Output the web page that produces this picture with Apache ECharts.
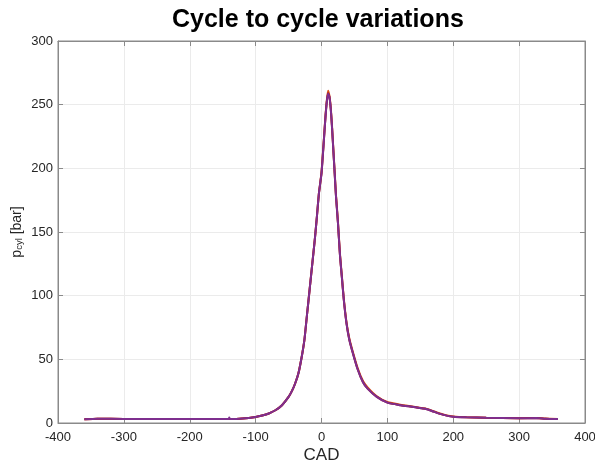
<!DOCTYPE html>
<html>
<head>
<meta charset="utf-8">
<script src="https://cdn.jsdelivr.net/npm/echarts@6/dist/echarts.min.js"></script>
<style>html,body{margin:0;padding:0;background:#fff;}#c{width:595px;height:462px;}</style>
</head>
<body>
<div id="c"></div>
<script>
// crank angle (deg) sample positions
const cad = [-360,-340,-300,-250,-200,-150,-141,-140,-139,-120,-100,-90,-80,-70,-60,-50,-45,-40,-35,-30,-26,-22,-18,-14,-10,-7,-4,-2,0,2,4,6,8,10,12,14,16,18,20,22,25,28,31,34,38,42,47,55,63,70,84,100,120,140,160,170,180,190,200,220,250,300,326,340,359];
// cylinder pressure, cycle A (orange)
const pA = [2.9,3.3,3.2,3.2,3.2,3.1,3.2,3.4,3.2,3.6,4.8,5.9,7.5,10,14,20.5,25,31,39,52,65,85,105,125,145,162,180,188,197,211,226,241,253,261,257,248,233,215,197,179,158,133,115,97,79,67,57,43,33,28,21,16.5,14.3,12.8,11.1,9.3,7.5,6.0,5.2,4.6,4.2,3.8,4.0,3.5,3.2];
// cylinder pressure, cycle B (dark red)
const pB = [2.9,3.3,3.2,3.2,3.2,3.1,3.2,3.3,3.2,3.6,4.8,5.9,7.5,10,14,20.5,25,31,39,52,65,85,105,125,145,162,180,188,196,210,225,240,252,259,256.5,247,232,214,196,178,157,132,114,96,78,66,56,42,32,27,20.5,16,14,12.5,10.8,9,7.2,5.8,5,4.5,4.1,3.7,3.9,3.4,3.1];
// cylinder pressure, cycle C (purple, on top)
const pC = [2.9,3.3,3.2,3.2,3.2,3.1,3.2,4.3,3.2,3.6,4.8,5.9,7.5,10,14,20.5,25,31,39,52,65,85,105,125,145,162,180,188,196,210,225,240,252,258.5,256,247,232,214,196,178,157,132,114,96,78,66,56,42,32,27,20.5,16,14,12.5,10.8,9,7.2,5.8,5,4.5,4.1,3.7,3.9,3.4,3.1];

const seriesColors = ['#D95319', '#A2142F', '#7E2F8E'];
const seriesData = [pA, pB, pC];

const chart = echarts.init(document.getElementById('c'), null, {renderer: 'canvas'});
const axisGray = '#8a8a8a';
const txt = '#262626';
const font = 'Liberation Sans, Arial, Helvetica, sans-serif';

chart.setOption({
  animation: false,
  backgroundColor: '#ffffff',
  title: {
    text: 'Cycle to cycle variations',
    left: 172, top: 8, padding: 0,
    textStyle: {fontSize: 25, fontWeight: 'bold', color: '#000', fontFamily: font}
  },
  grid: {left: 58, right: 10, top: 41, bottom: 39, containLabel: false, outerBoundsMode: 'none',
         show: true, borderColor: axisGray, borderWidth: 1, backgroundColor: '#fff'},
  xAxis: [{
    type: 'value', min: -400, max: 400, interval: 100, position: 'bottom',
    axisLine: {show: true, onZero: false, lineStyle: {color: axisGray}},
    axisTick: {show: true, inside: true, length: 5, lineStyle: {color: axisGray}},
    axisLabel: {color: txt, fontSize: 13, margin: 8, fontFamily: font},
    splitLine: {show: true, lineStyle: {color: '#ebebeb'}},
    name: 'CAD', nameLocation: 'middle', nameGap: 24, nameMoveOverlap: false,
    nameTextStyle: {fontSize: 17, color: txt, fontFamily: font}
  }, {
    type: 'value', min: -400, max: 400, interval: 100, position: 'top',
    axisLine: {show: true, onZero: false, lineStyle: {color: axisGray}},
    axisTick: {show: true, inside: true, length: 5, lineStyle: {color: axisGray}},
    axisLabel: {show: false}, splitLine: {show: false}
  }],
  yAxis: [{
    type: 'value', min: 0, max: 300, interval: 50, position: 'left',
    axisLine: {show: true, onZero: false, lineStyle: {color: axisGray}},
    axisTick: {show: true, inside: true, length: 5, lineStyle: {color: axisGray}},
    axisLabel: {color: txt, fontSize: 13, margin: 5, fontFamily: font},
    splitLine: {show: true, lineStyle: {color: '#ebebeb'}},
    name: '{m|p}{s|cyl}{m| [bar]}', nameLocation: 'middle', nameGap: 34, nameMoveOverlap: false,
    nameTextStyle: {
      color: txt, fontFamily: font,
      rich: {
        m: {fontSize: 14, lineHeight: 14, verticalAlign: 'top', color: txt, fontFamily: font},
        s: {fontSize: 9.5, lineHeight: 10, verticalAlign: 'bottom', padding: [8, 0, 0, 0], color: txt, fontFamily: font}
      }
    }
  }, {
    type: 'value', min: 0, max: 300, interval: 50, position: 'right',
    axisLine: {show: true, onZero: false, lineStyle: {color: axisGray}},
    axisTick: {show: true, inside: true, length: 5, lineStyle: {color: axisGray}},
    axisLabel: {show: false}, splitLine: {show: false}
  }],
  series: seriesData.map((arr, i) => ({
    type: 'line',
    xAxisIndex: 0, yAxisIndex: 0,
    data: cad.map((x, j) => [x, arr[j]]),
    showSymbol: false, symbol: 'none',
    smooth: 0.2,
    lineStyle: {color: seriesColors[i], width: 2},
    z: 2 + i
  }))
});
</script>
</body>
</html>
